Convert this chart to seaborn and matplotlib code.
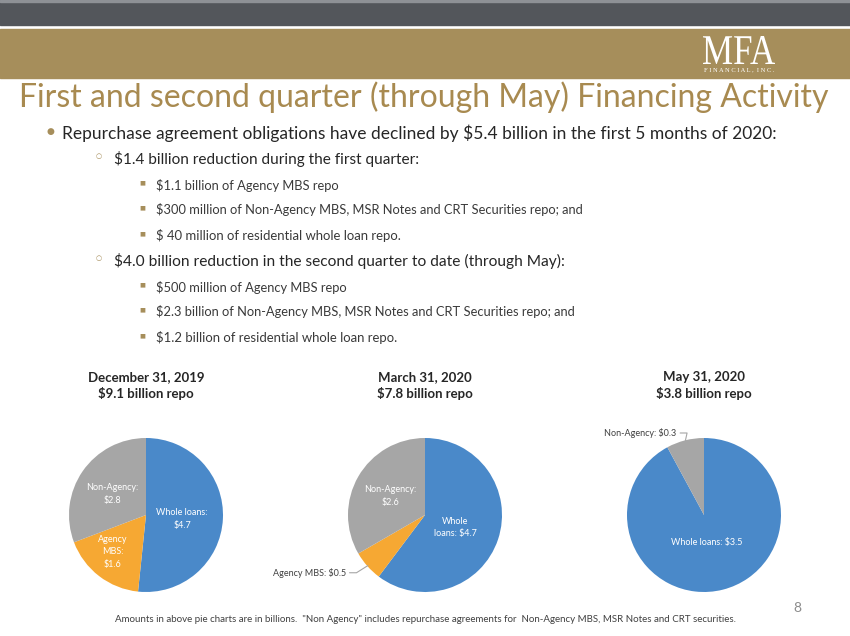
import numpy as np
import matplotlib
matplotlib.use('Agg')
import matplotlib.pyplot as plt
from matplotlib.patches import Rectangle, PathPatch
from matplotlib.textpath import TextPath
from matplotlib.font_manager import FontProperties
from matplotlib.transforms import Affine2D
import seaborn as sns

# Dados dos gráficos de pizza (em bilhões)
datas = ['December 31, 2019', 'March 31, 2020', 'May 31, 2020']
totais = [9.1, 7.8, 3.8]
categorias = ['Whole loans', 'Agency MBS', 'Non-Agency']
whole_loans = [4.7, 4.7, 3.5]
agency_mbs = [1.6, 0.5, 0.0]
non_agency = [2.8, 2.6, 0.3]

titulo = 'First and second quarter (through May) Financing Activity'
topicos = [
    (0, 'Repurchase agreement obligations have declined by $5.4 billion in the first 5 months of 2020:'),
    (1, '$1.4 billion reduction during the first quarter:'),
    (2, '$1.1 billion of Agency MBS repo'),
    (2, '$300 million of Non-Agency MBS, MSR Notes and CRT Securities repo; and'),
    (2, '$ 40 million of residential whole loan repo.'),
    (1, '$4.0 billion reduction in the second quarter to date (through May):'),
    (2, '$500 million of Agency MBS repo'),
    (2, '$2.3 billion of Non-Agency MBS, MSR Notes and CRT Securities repo; and'),
    (2, '$1.2 billion of residential whole loan repo.'),
]
rodape = ('Amounts in above pie charts are in billions.  "Non Agency" includes repurchase '
          'agreements for  Non-Agency MBS, MSR Notes and CRT securities.')

# Cores
azul, laranja, cinza = '#4A89C9', '#F6A833', '#A6A6A6'
dourado = '#A68E5B'

sns.set_theme(style='white')
plt.rcParams['font.family'] = ['Lato', 'DejaVu Sans']

W, H = 850, 636
fig = plt.figure(figsize=(W / 100, H / 100), dpi=100)
fig.patch.set_facecolor('white')
rend = fig.canvas.get_renderer()


def fx(x):
    return x / W


def fy(y):
    return 1 - y / H


def ajusta(t, largura):
    # ajusta o tamanho da fonte para a largura desejada (px)
    w = t.get_window_extent(renderer=rend).width
    t.set_fontsize(t.get_fontsize() * largura / w)


# Cabeçalho
fig.patches.append(Rectangle((0, fy(25)), 1, 25 / H, transform=fig.transFigure,
                             color='#53565B', zorder=0))
fig.patches.append(Rectangle((0, fy(2)), 1, 2 / H, transform=fig.transFigure,
                             color='#8E9196', zorder=0))
fig.patches.append(Rectangle((0, fy(78)), 1, 49 / H, transform=fig.transFigure,
                             color=dourado, zorder=0))

# logotipo: letras serifadas esticadas na vertical
tp = TextPath((0, 0), 'MFA', size=1, prop=FontProperties(family='Liberation Serif'))
bb = tp.get_extents()
tr = (Affine2D().translate(-bb.x0, -bb.y0)
      .scale(72 / bb.width, 28 / bb.height)
      .translate(703, H - 64))
fig.patches.append(PathPatch(tp, transform=tr, facecolor='white', edgecolor='none'))
sub = fig.text(fx(704), fy(71.5), 'F I N A N C I A L ,  I N C .', family='Liberation Serif',
               color='white', fontsize=4, va='baseline')
ajusta(sub, 70)

t = fig.text(fx(19), fy(107), titulo, color='#A88A50', fontsize=22, va='baseline')
ajusta(t, 807)

# Tópicos
ys = [133, 159, 185, 210, 236, 261, 287, 312, 338]
x_txt = {0: 62, 1: 114, 2: 156}
x_marc = {0: 50, 1: 99, 2: 142}
larg = [710, 304, 184, 428, 246, 448, 190, 420, 242]
for (nivel, texto), y, lw in zip(topicos, ys, larg):
    cor = '#262626' if nivel < 2 else '#3A3A3A'
    tt = fig.text(fx(x_txt[nivel]), fy(y), texto, color=cor, fontsize=12, va='center')
    ajusta(tt, lw)
    if nivel == 0:
        fig.text(fx(x_marc[0]), fy(y - 1), '\u25CF', color=dourado, fontsize=6.5,
                 ha='center', va='center', family='DejaVu Sans')
    elif nivel == 1:
        fig.text(fx(x_marc[1]), fy(y - 3), '\u25CB', color=dourado, fontsize=5,
                 ha='center', va='center', family='DejaVu Sans')
    else:
        fig.text(fx(x_marc[2]), fy(y - 2), '\u25A0', color=dourado, fontsize=4.5,
                 ha='center', va='center', family='DejaVu Sans')

# Rótulos dentro/fora das fatias: (formato, x, y, alinhamento, dentro)
rotulos = [
    {'Whole loans': ('{n}:\n${v}', 0.47, -0.05, 'center', True),
     'Agency MBS': ('Agency\nMBS:\n${v}', -0.43, -0.48, 'center', True),
     'Non-Agency': ('{n}:\n${v}', -0.44, 0.27, 'center', True)},
    {'Whole loans': ('Whole\nloans: ${v}', 0.39, -0.16, 'center', True),
     'Agency MBS': ('{n}: ${v}', -1.03, -0.75, 'right', False),
     'Non-Agency': ('{n}:\n${v}', -0.45, 0.25, 'center', True)},
    {'Whole loans': ('{n}: ${v}', 0.03, -0.36, 'center', True),
     'Non-Agency': ('{n}: ${v}', -0.36, 1.065, 'right', False)},
]
centros = [146, 425, 704]
cy, r = 515, 77
cores = [azul, laranja, cinza]

for i in range(3):
    ax = fig.add_axes([fx(centros[i] - r), fy(cy + r), 2 * r / W, 2 * r / H])
    vals = [whole_loans[i], agency_mbs[i], non_agency[i]]
    sel = [k for k in range(3) if vals[k] > 0]
    wedges, _ = ax.pie([vals[k] for k in sel], colors=[cores[k] for k in sel],
                       startangle=90, counterclock=False, radius=1,
                       wedgeprops=dict(linewidth=0))
    ax.set_xlim(-1, 1)
    ax.set_ylim(-1, 1)
    for w, k in zip(wedges, sel):
        nome = categorias[k]
        fmt, lx, ly, ha, dentro = rotulos[i][nome]
        txt = fmt.format(n=nome, v=vals[k])
        ax.text(lx, ly, txt, ha=ha, va='center', fontsize=6.5, linespacing=1.5,
                color='white' if dentro else '#404040', multialignment='center')
        if not dentro:
            # linha guia até a borda da fatia
            meio = np.deg2rad((w.theta1 + w.theta2) / 2)
            ex, ey = 0.99 * np.cos(meio), 0.99 * np.sin(meio)
            ax.plot([lx + 0.05, lx + 0.14, ex], [ly, ly, ey], color='#A6A6A6',
                    lw=0.8, clip_on=False)
    fig.text(fx(centros[i]), fy(377), datas[i], ha='center', va='center',
             fontsize=9.5, fontweight='bold', color='#262626')
    fig.text(fx(centros[i]), fy(393), f'${totais[i]} billion repo', ha='center',
             va='center', fontsize=9.5, fontweight='bold', color='#262626')

ft = fig.text(fx(115), fy(619), rodape, color='#404040', fontsize=6.5, va='center')
ajusta(ft, 623)
fig.text(fx(797), fy(608), '8', color='#8C8C8C', fontsize=10, ha='center', va='center')

fig.savefig('out.png', dpi=100)
